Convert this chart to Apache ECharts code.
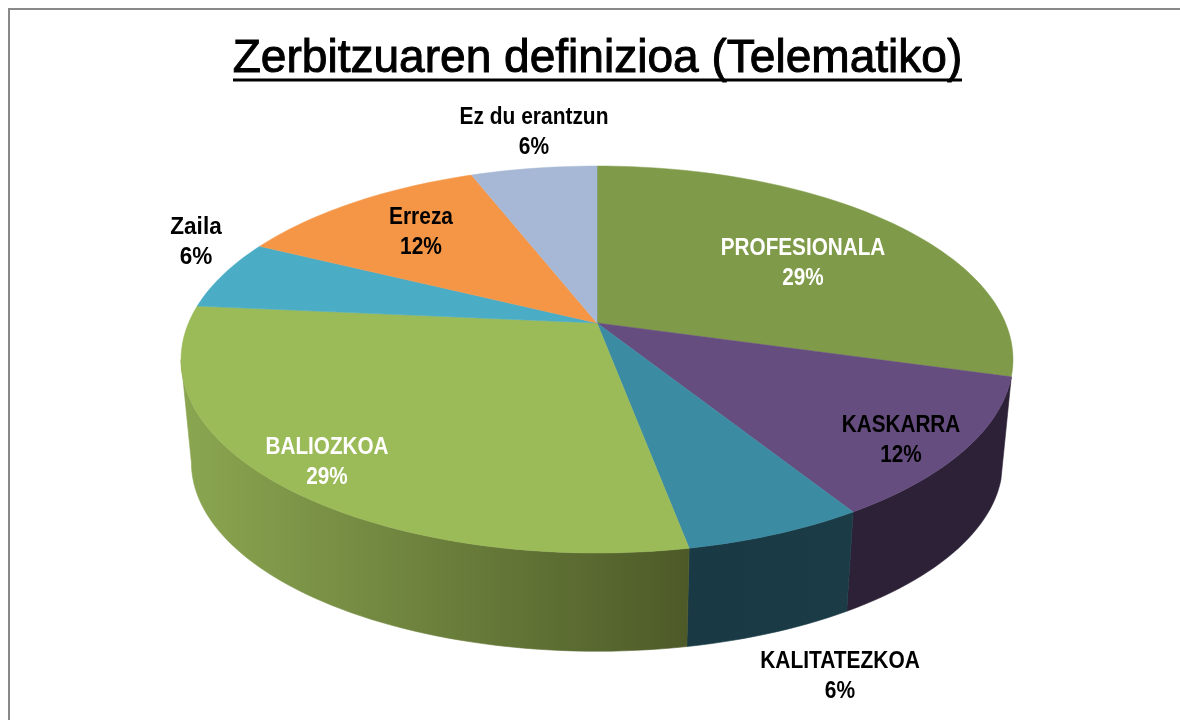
<!DOCTYPE html>
<html><head><meta charset="utf-8">
<style>html,body{margin:0;padding:0;background:#fff}#c{width:1180px;height:720px}</style>
<script src="https://cdn.jsdelivr.net/npm/echarts@6/dist/echarts.min.js"></script>
</head><body><div id="c"></div>
<script>
var titleText = 'Zerbitzuaren definizioa (Telematiko)';
var categories = ['PROFESIONALA','KASKARRA','KALITATEZKOA','BALIOZKOA','Zaila','Erreza','Ez du erantzun'];
var values = [5,2,1,5,1,2,1];
var topColors = ['#7f9a48','#664d7f','#3b8ba3','#9bbb59','#4bacc6','#f59647','#a7b8d6'];
var wallStops = [null,['#2c2136','#2c2136'],['#1b3c47','#193a44'],['#8aa550','#4d5a28'],null,null,null];
var labelColors = ['#fff','#000','#000','#fff','#000','#000','#000'];
// label layout only: centres in px and horizontal condensing
var labelCentres = [[803,264],[901,441],[840,677],[327,463],[196,243],[421,233],[534,133]];
var labelScale = [0.9,0.9,0.91,0.9,0.98,0.91,0.91];

var total = values.reduce(function(a,b){return a+b;},0);
var HUB_X=597,HUB_Y=323,R=408.5,A=186.6,K=0.1887,DROP=104,SHRINK=0.975;
var SIL=100.9; // silhouette angle, degrees from top
function proj(deg,r,base){
  var t=deg*Math.PI/180,u=r*Math.sin(t),v=-r*Math.cos(t),d=1-K*v,s=base?SHRINK:1;
  return [HUB_X+s*R*u/d,HUB_Y+(base?DROP:0)+s*A*v/d];
}
function arc(a,b,base){
  var pts=[],n=Math.max(2,Math.ceil((b-a)/1.5));
  for(var i=0;i<=n;i++)pts.push(proj(a+(b-a)*i/n,1,base));
  return pts;
}
function renderItem(params,api){
  var i=params.dataIndex,start=0;
  for(var j=0;j<i;j++)start+=values[j];
  var a=start/total*360,b=(start+api.value(0))/total*360,kids=[];
  var wa=Math.max(a,105.9),wb=Math.min(b,360-SIL);
  if(wallStops[i]&&wb>wa){
    var wallPts=arc(wa,wb,false).concat(arc(wa,wb,true).reverse());
    var g=new echarts.graphic.LinearGradient(i===3?690:proj(b,1)[0],0,i===3?190:proj(a,1)[0],0,
      [{offset:0,color:wallStops[i][1]},{offset:1,color:wallStops[i][0]}],true);
    kids.push({type:'polygon',z2:1,shape:{points:wallPts},style:{fill:g,stroke:g,lineWidth:0.6}});
  }
  var c=topColors[i];
  kids.push({type:'polygon',z2:2,shape:{points:[[HUB_X,HUB_Y]].concat(arc(a,b,false))},style:{fill:c,stroke:c,lineWidth:0.5}});
  kids.push({type:'text',z2:5,x:labelCentres[i][0],y:labelCentres[i][1],scaleX:labelScale[i],style:{x:0,y:0,
    text:categories[i]+'\n'+Math.round(api.value(0)/total*100)+'%',
    fill:labelColors[i],align:'center',verticalAlign:'middle',lineHeight:30,
    font:'bold 23px "Liberation Sans",sans-serif'}});
  return {type:'group',children:kids};
}
var chart=echarts.init(document.getElementById('c'),null,{renderer:'canvas'});
chart.setOption({
  animation:false,
  backgroundColor:'#fff',
  graphic:[
    {type:'polyline',shape:{points:[[9,720],[9,9],[1180,9]]},style:{fill:null,stroke:'#898989',lineWidth:2}},
    {type:'text',x:597.5,y:59,scaleX:0.98,style:{x:0,y:0,text:titleText,align:'center',verticalAlign:'middle',
      font:'47px "Liberation Sans",sans-serif',fill:'#000',stroke:'#000',lineWidth:1}},
    {type:'line',shape:{x1:233,y1:80,x2:962,y2:80},style:{stroke:'#000',lineWidth:3}}
  ],
  series:[{type:'custom',coordinateSystem:'none',renderItem:renderItem,
    data:values.map(function(v,i){return {name:categories[i],value:[v]};})}]
});
</script></body></html>
